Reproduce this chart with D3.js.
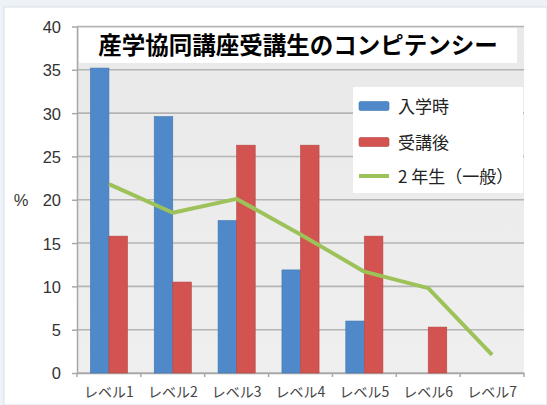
<!DOCTYPE html>
<html>
<head>
<meta charset="utf-8">
<script src="https://cdn.jsdelivr.net/npm/d3@7"></script>
<style>
  html, body { margin: 0; padding: 0; background: #edf2f9; }
  svg { display: block; }
</style>
</head>
<body>
<svg id="chart" width="547" height="405"></svg>
<script>
const categories = ["レベル1", "レベル2", "レベル3", "レベル4", "レベル5", "レベル6", "レベル7"];
const seriesNames = ["入学時", "受講後", "2 年生（一般）"];
const entryValues = [35.2, 29.6, 17.6, 11.9, 6.0, 0, 0];
const afterValues = [15.8, 10.5, 26.3, 26.3, 15.8, 5.3, 0];
const secondYearValues = [21.8, 18.5, 20.1, 16.0, 11.7, 9.8, 2.1];
const yTicks = [0, 5, 10, 15, 20, 25, 30, 35, 40];
const titleText = "産学協同講座受講生のコンピテンシー";
const yAxisTitle = "%";

const colors = { entry: "#4f89c9", after: "#d2534f", second: "#9dc25a" };
const numFont = "'Liberation Sans', Arial, sans-serif";
const jpFont = "'Noto Sans CJK JP', 'Noto Sans', sans-serif";

const svg = d3.select("#chart");
const W = 547, H = 405;
const plot = { left: 77, right: 524, top: 26.5, bottom: 373 };

// outer white panel
svg.append("rect").attr("x", 4).attr("y", 7).attr("width", W - 4).attr("height", H - 7)
  .attr("fill", "#ffffff").attr("stroke", "#d9dee6").attr("stroke-width", 1);

const x = d3.scaleBand().domain(categories).range([plot.left, plot.right]).paddingInner(0).paddingOuter(0);
const y = d3.scaleLinear().domain([0, 40]).range([plot.bottom, plot.top]);

// plot background
const defs = svg.append("defs");
const grad = defs.append("linearGradient").attr("id", "bg").attr("x1", 0).attr("y1", 0).attr("x2", 0).attr("y2", 1);
grad.append("stop").attr("offset", "0%").attr("stop-color", "#e9e9e9");
grad.append("stop").attr("offset", "100%").attr("stop-color", "#efefef");
svg.append("rect").attr("x", plot.left).attr("y", plot.top)
  .attr("width", plot.right - plot.left).attr("height", plot.bottom - plot.top)
  .attr("fill", "url(#bg)");

// gridlines
svg.append("g").selectAll("line").data(yTicks).join("line")
  .attr("x1", plot.left).attr("x2", plot.right)
  .attr("y1", d => y(d)).attr("y2", d => y(d))
  .attr("stroke", "#b4b4b4").attr("stroke-width", 1.6);

// y axis
const yAxis = svg.append("g").attr("transform", `translate(${plot.left},0)`)
  .call(d3.axisLeft(y).tickValues(yTicks).tickSize(5).tickPadding(11).tickSizeOuter(0));
yAxis.select(".domain").attr("stroke", "#a8a8a8").attr("stroke-width", 1.5);
yAxis.selectAll(".tick line").attr("stroke", "#a8a8a8").attr("stroke-width", 1.5);
yAxis.selectAll(".tick text").attr("font-family", numFont).attr("font-size", 16.5)
  .attr("fill", "#333").attr("dy", "0.36em");

// y axis title
svg.append("text").attr("x", 21).attr("y", y(20)).attr("dy", "0.36em")
  .attr("text-anchor", "middle").attr("font-family", numFont).attr("font-size", 16.5)
  .attr("fill", "#333").text(yAxisTitle);

// x axis
const xAxis = svg.append("g").attr("transform", `translate(0,${plot.bottom})`)
  .call(d3.axisBottom(x).tickSize(0).tickPadding(14).tickSizeOuter(0));
xAxis.select(".domain").attr("stroke", "#a8a8a8").attr("stroke-width", 1.5);
xAxis.selectAll(".tick text").attr("font-family", jpFont).attr("font-size", 14)
  .attr("fill", "#444");
// boundary ticks
const bounds = categories.map(c => x(c)).concat([x(categories[categories.length - 1]) + x.bandwidth()]);
svg.append("g").selectAll("line").data(bounds).join("line")
  .attr("x1", d => d).attr("x2", d => d)
  .attr("y1", plot.bottom).attr("y2", plot.bottom + 4)
  .attr("stroke", "#a8a8a8").attr("stroke-width", 1.5);

// bars
const sub = d3.scaleBand().domain(["entry", "after"]).range([0, x.bandwidth()]).paddingInner(0).paddingOuter(0.72);
const barData = [];
categories.forEach((c, i) => {
  barData.push({ cat: c, key: "entry", v: entryValues[i] });
  barData.push({ cat: c, key: "after", v: afterValues[i] });
});
svg.append("g").selectAll("rect").data(barData.filter(d => d.v > 0)).join("rect")
  .attr("x", d => x(d.cat) + sub(d.key))
  .attr("width", sub.bandwidth())
  .attr("y", d => y(d.v))
  .attr("height", d => y(0) - y(d.v))
  .attr("fill", d => colors[d.key])
  .attr("stroke", d => d3.color(colors[d.key]).darker(0.4))
  .attr("stroke-width", 0.6);

// line
const line = d3.line().x((d, i) => x(categories[i]) + x.bandwidth() / 2).y(d => y(d));
svg.append("path").datum(secondYearValues).attr("d", line)
  .attr("fill", "none").attr("stroke", colors.second).attr("stroke-width", 4)
  .attr("stroke-linejoin", "round").attr("stroke-linecap", "butt");

// title
svg.append("rect").attr("x", 79).attr("y", 28).attr("width", 438).attr("height", 35).attr("fill", "#ffffff");
svg.append("text").attr("x", 298).attr("y", 46).attr("dy", "0.36em")
  .attr("text-anchor", "middle").attr("font-family", jpFont).attr("font-weight", 700)
  .attr("font-size", 23.5).attr("fill", "#000").text(titleText);

// legend
const lg = svg.append("g");
lg.append("rect").attr("x", 353).attr("y", 87).attr("width", 170).attr("height", 106).attr("fill", "#ffffff");
const legendItems = [
  { name: seriesNames[0], key: "entry", type: "bar", cy: 106 },
  { name: seriesNames[1], key: "after", type: "bar", cy: 142 },
  { name: seriesNames[2], key: "second", type: "line", cy: 176 }
];
legendItems.forEach(it => {
  if (it.type === "bar") {
    lg.append("rect").attr("x", 359).attr("y", it.cy - 4.5).attr("width", 30).attr("height", 9)
      .attr("rx", 1.5).attr("fill", colors[it.key])
      .attr("stroke", d3.color(colors[it.key]).darker(0.4)).attr("stroke-width", 0.6);
  } else {
    lg.append("line").attr("x1", 359).attr("x2", 389).attr("y1", it.cy).attr("y2", it.cy)
      .attr("stroke", colors.second).attr("stroke-width", 4);
  }
  lg.append("text").attr("x", 398).attr("y", it.cy + 1).attr("dy", "0.36em")
    .attr("font-family", jpFont).attr("font-size", 17).attr("fill", "#222").text(it.name);
});
</script>
</body>
</html>
